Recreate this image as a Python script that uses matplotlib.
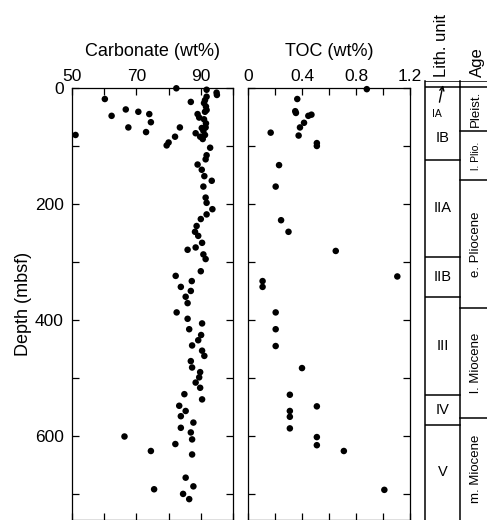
import matplotlib.pyplot as plt
from matplotlib.ticker import MultipleLocator

plt.rcParams['font.family'] = ['Liberation Sans', 'DejaVu Sans']

# carbonate (wt%) vs depth (mbsf)
carb_depth = [0.5, 3, 8, 12, 19, 15, 21, 24, 26, 32, 38, 41, 37, 41, 45, 48, 45, 51, 54,
              59, 61, 68, 68, 69, 68, 76, 78, 74, 84, 88, 81, 81, 84, 94, 99, 103, 116,
              123, 132, 141, 152, 160, 170, 189, 198, 209, 218, 226, 238, 248, 255, 267,
              275, 279, 287, 295, 316, 324, 333, 343, 350, 360, 371, 387, 398, 406, 416,
              426, 435, 444, 453, 462, 471, 482, 490, 499, 508, 517, 528, 537, 548, 557,
              566, 577, 586, 594, 606, 601, 614, 626, 632, 672, 687, 692, 700, 709]
carb_value = [82.4, 91.8, 94.9, 95.0, 60.2, 91.8, 91.3, 86.9, 91.0, 91.6, 91.8, 91.3, 66.7,
              70.6, 74.0, 62.3, 89.0, 89.5, 91.0, 74.5, 91.6, 67.5, 83.5, 90.3, 91.5, 73.0,
              88.4, 90.8, 89.8, 90.6, 91.3, 51.1, 82.0, 80.0, 79.4, 92.9, 91.8, 91.5, 89.0,
              90.3, 91.1, 93.4, 90.8, 91.5, 91.8, 93.6, 91.8, 90.0, 88.7, 88.2, 89.2, 90.4,
              88.4, 85.9, 90.8, 91.5, 90.0, 82.2, 87.2, 83.8, 86.9, 85.3, 85.9, 82.5, 85.9,
              90.4, 86.4, 90.1, 89.2, 87.3, 90.4, 91.1, 86.9, 87.3, 89.8, 89.5, 88.4, 89.8,
              84.9, 90.4, 83.3, 85.3, 83.8, 87.7, 83.8, 86.9, 87.3, 66.3, 82.1, 74.5, 87.3,
              85.3, 87.7, 75.5, 84.5, 86.4]

# TOC (wt%) vs depth (mbsf)
toc_depth = [2, 19, 40, 43, 48, 46, 60, 68, 82, 77, 95, 100, 133, 170, 228, 248, 281, 325,
             333, 343, 387, 416, 445, 483, 529, 557, 567, 587, 549, 602, 616, 626, 693]
toc_value = [0.88, 0.365, 0.35, 0.355, 0.447, 0.47, 0.415, 0.385, 0.375, 0.168, 0.51, 0.51,
             0.23, 0.205, 0.245, 0.30, 0.65, 1.106, 0.108, 0.108, 0.205, 0.205, 0.205, 0.40,
             0.31, 0.31, 0.31, 0.31, 0.51, 0.51, 0.51, 0.71, 1.01]

# lithologic units and ages (boundaries in mbsf)
lith_names = ['IA', 'IB', 'IIA', 'IIB', 'III', 'IV', 'V']
lith_bounds = [-12, -1, 124, 291, 360, 529, 581, 745]
age_names = ['Pleist.', 'l. Plio.', 'e. Pliocene', 'l. Miocene', 'm. Miocene']
age_bounds = [-1, 74, 159, 379, 569, 745]

W, H = 487, 520
fig = plt.figure(figsize=(W / 100, H / 100), dpi=100)


def rect(x0, y0, x1, y1):
    return [x0 / W, 1 - y1 / H, (x1 - x0) / W, (y1 - y0) / H]


def style(ax):
    ax.set_ylim(745, 0)
    ax.tick_params(which='both', direction='in', top=True, bottom=True, left=True, right=True,
                   labeltop=True, labelbottom=False, labelsize=12.5, width=0.9, length=5)
    ax.tick_params(axis='x', pad=3)
    ax.tick_params(axis='y', pad=6)
    ax.yaxis.set_major_locator(MultipleLocator(200))
    ax.yaxis.set_minor_locator(MultipleLocator(100))
    ax.xaxis.set_label_position('top')
    for s in ax.spines.values():
        s.set_linewidth(0.9)


ax1 = fig.add_axes(rect(72, 88, 233, 520))
ax1.scatter(carb_value, carb_depth, s=22, c='black', edgecolors='none', clip_on=False, zorder=3)
style(ax1)
ax1.set_xlim(50, 100)
ax1.xaxis.set_minor_locator(MultipleLocator(10))
ax1.set_xticks([50, 70, 90])
ax1.set_xlabel('Carbonate (wt%)', fontsize=13, labelpad=9)
ax1.set_ylabel('Depth (mbsf)', fontsize=13, labelpad=2)

ax2 = fig.add_axes(rect(248, 88, 410, 520))
ax2.scatter(toc_value, toc_depth, s=22, c='black', edgecolors='none', clip_on=False, zorder=3)
style(ax2)
ax2.set_xlim(0, 1.2)
ax2.xaxis.set_minor_locator(MultipleLocator(0.2))
ax2.set_xticks([0, 0.4, 0.8, 1.2])
ax2.set_xticklabels(['0', '0.4', '0.8', '1.2'])
ax2.tick_params(labelleft=False)
ax2.set_xlabel('TOC (wt%)', fontsize=13, labelpad=9)

# lithology / age column
ax3 = fig.add_axes(rect(425, 81, 500, 520))
ax3.set_xlim(0, 75)
ax3.set_ylim(745, -12)
ax3.axis('off')
lw = 1.1
for x in [0, 35]:
    ax3.plot([x, x], [-12, 745], color='black', lw=lw, clip_on=False)
for b in lith_bounds[:-1]:
    ax3.plot([0, 35], [b, b], color='black', lw=lw)
for b in age_bounds[:-1]:
    ax3.plot([35, 75], [b, b], color='black', lw=lw)
ax3.plot([35, 75], [-12, -12], color='black', lw=lw)

for name, top, bot in zip(lith_names[1:], lith_bounds[1:-1], lith_bounds[2:]):
    yc = (top + bot) / 2
    if name == 'IB':
        yc = 86  # sits below the IA label
    ax3.text(17.5, yc, name, ha='center', va='center', fontsize=10.5)
ax3.annotate('IA', xy=(18, -5), xytext=(12, 45), ha='center', va='center', fontsize=7.5,
             arrowprops=dict(arrowstyle='->', lw=1.0, shrinkA=3, shrinkB=0))

for name, top, bot in zip(age_names, age_bounds[:-1], age_bounds[1:]):
    fs = 7.5 if name == 'l. Plio.' else 9.5
    ax3.text(51, (top + bot) / 2, name, ha='center', va='center', rotation=90, fontsize=fs)

fig.text(442 / W, 1 - 77 / H, 'Lith. unit', rotation=90, ha='center', va='bottom', fontsize=12)
fig.text(477 / W, 1 - 77 / H, 'Age', rotation=90, ha='center', va='bottom', fontsize=12)

fig.savefig('out.png', dpi=100)
